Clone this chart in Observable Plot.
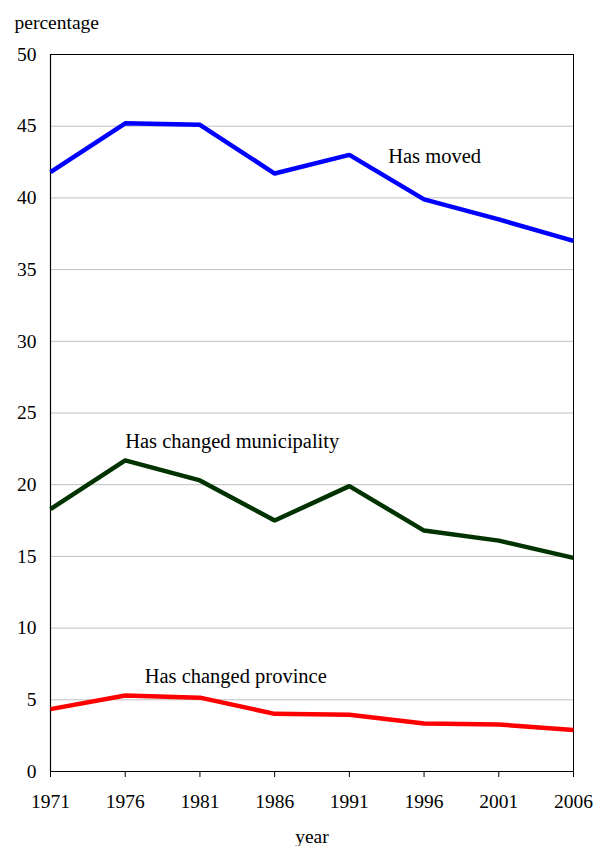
<!DOCTYPE html>
<html>
<head>
<meta charset="utf-8">
<script src="https://cdn.jsdelivr.net/npm/d3@7"></script>
<script src="https://cdn.jsdelivr.net/npm/@observablehq/plot@0.6"></script>
<style>
  html, body { margin: 0; padding: 0; background: #fff; }
  #chart svg { display: block; }
  #chart svg, #chart svg text { font-family: "Liberation Serif", "Times New Roman", "DejaVu Serif", serif !important; }
</style>
</head>
<body>
<div id="chart"></div>
<script>
const years = [1971, 1976, 1981, 1986, 1991, 1996, 2001, 2006];
const hasMoved = [41.8, 45.2, 45.1, 41.7, 43.0, 39.9, 38.5, 37.0];
const hasChangedMunicipality = [18.3, 21.7, 20.3, 17.5, 19.9, 16.8, 16.1, 14.9];
const hasChangedProvince = [4.35, 5.3, 5.15, 4.02, 3.95, 3.35, 3.28, 2.9];
const seriesNames = ["Has moved", "Has changed municipality", "Has changed province"];
const seriesColors = ["#0000ff", "#003300", "#ff0000"];
const yTicks = [0, 5, 10, 15, 20, 25, 30, 35, 40, 45, 50];
// label anchor points in data coordinates (year, percentage)
const labelYears = [1993.6, 1976.0, 1977.3];
const labelValues = [42.45, 22.55, 6.2];

const seriesValues = [hasMoved, hasChangedMunicipality, hasChangedProvince];
const rows = seriesNames.flatMap((name, s) =>
  years.map((year, i) => ({ series: name, year, value: seriesValues[s][i] }))
);
const labels = seriesNames.map((name, s) => ({ name, year: labelYears[s], value: labelValues[s] }));

const font = "Liberation Serif";

const chart = Plot.plot({
  width: 597,
  height: 846,
  marginLeft: 50,
  marginRight: 24,
  marginTop: 54,
  marginBottom: 75,
  style: { fontFamily: font, fontSize: "19.5px", color: "#000", background: "#fff" },
  x: { domain: [1971, 2006], ticks: years, tickFormat: "d", label: null },
  y: { domain: [0, 50], ticks: yTicks, label: null },
  color: { domain: seriesNames, range: seriesColors },
  marks: [
    Plot.gridY(yTicks.filter(d => d > 0 && d < 50), { stroke: "#c0c0c0", strokeOpacity: 1, strokeWidth: 1 }),
    Plot.frame({ stroke: "#000", strokeWidth: 1 }),
    Plot.axisY({ ticks: yTicks, tickSize: 0, tickPadding: 14, fontSize: 19.5, fontFamily: font, label: null }),
    Plot.axisX({ ticks: years, tickFormat: "d", tickSize: 6, tickPadding: 17, fontSize: 19.5, fontFamily: font, label: null }),
    Plot.ruleX([1971], { stroke: "#000", strokeWidth: 1.2 }),
    Plot.ruleY([0], { stroke: "#000", strokeWidth: 1.2 }),
    Plot.line(rows, { x: "year", y: "value", z: "series", stroke: "series", strokeWidth: 4.5, strokeLinejoin: "miter", strokeLinecap: "butt" }),
    Plot.text(labels, { x: "year", y: "value", text: "name", textAnchor: "start", lineAnchor: "bottom", fontSize: 20.5, fontFamily: font, fill: "#000" }),
    Plot.text(["percentage"], { frameAnchor: "top-left", dx: -36, dy: -26, textAnchor: "start", lineAnchor: "bottom", fontSize: 19.5, fontFamily: font, fill: "#000" }),
    Plot.text(["year"], { frameAnchor: "bottom", dy: 71, textAnchor: "middle", lineAnchor: "bottom", fontSize: 19.5, fontFamily: font, fill: "#000" })
  ]
});
document.getElementById("chart").appendChild(chart);
</script>
</body>
</html>
